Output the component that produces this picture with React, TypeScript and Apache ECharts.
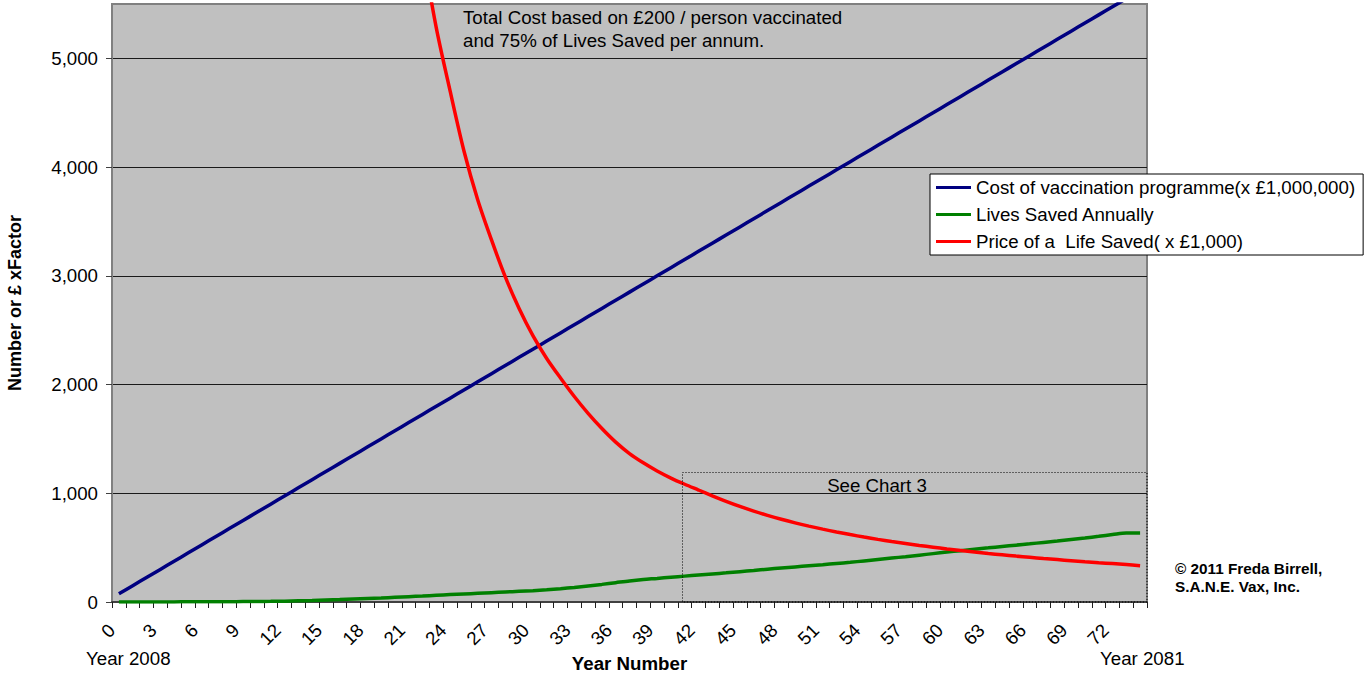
import React, { useEffect, useRef } from 'react';
import * as echarts from 'echarts';

const FONT = '"Liberation Sans", Arial, Helvetica, sans-serif';

// Year number categories (0 = Year 2008 ... 74)
const categories = [
  '0', '1', '2', '3', '4', '5', '6', '7', '8', '9',
  '10', '11', '12', '13', '14', '15', '16', '17', '18', '19',
  '20', '21', '22', '23', '24', '25', '26', '27', '28', '29',
  '30', '31', '32', '33', '34', '35', '36', '37', '38', '39',
  '40', '41', '42', '43', '44', '45', '46', '47', '48', '49',
  '50', '51', '52', '53', '54', '55', '56', '57', '58', '59',
  '60', '61', '62', '63', '64', '65', '66', '67', '68', '69',
  '70', '71', '72', '73', '74',
];

// Cost of vaccination programme (x £1,000,000)
const costValues = [
  75, 150, 225, 300, 375, 450, 525, 600, 675, 750,
  825, 900, 975, 1050, 1125, 1200, 1275, 1350, 1425, 1500,
  1575, 1650, 1725, 1800, 1875, 1950, 2025, 2100, 2175, 2250,
  2325, 2400, 2475, 2550, 2625, 2700, 2775, 2850, 2925, 3000,
  3075, 3150, 3225, 3300, 3375, 3450, 3525, 3600, 3675, 3750,
  3825, 3900, 3975, 4050, 4125, 4200, 4275, 4350, 4425, 4500,
  4575, 4650, 4725, 4800, 4875, 4950, 5025, 5100, 5175, 5250,
  5325, 5400, 5475, 5550, 5625,
];

// Lives Saved Annually
const livesValues = [
  0, 0, 0, 1, 1, 2, 2, 3, 3, 4,
  5, 6, 8, 11, 14, 18, 22, 27, 32, 37,
  43, 49, 55, 62, 68, 74, 80, 86, 92, 98,
  104, 112, 122, 134, 148, 162, 178, 194, 207, 217,
  228, 238, 248, 258, 268, 279, 290, 302, 313, 323,
  333, 343, 354, 365, 378, 391, 404, 417, 431, 445,
  459, 472, 485, 498, 511, 523, 535, 548, 561, 575,
  589, 604, 620, 635, 635,
];

// Price of a Life Saved (x £1,000)
const priceValues = [
  null, null, null, null, null, null, null, null, null, null,
  null, null, null, null, null, null, null, null, null, null,
  null, 6800, 6000, 5280, 4700, 4150, 3700, 3330, 2990, 2700,
  2450, 2240, 2060, 1890, 1735, 1595, 1470, 1365, 1280, 1205,
  1140, 1083, 1030, 977, 926, 879, 836, 797, 761, 728,
  698, 670, 644, 620, 597, 576, 556, 538, 520, 504,
  488, 474, 460, 446, 434, 422, 411, 400, 390, 380,
  370, 361, 353, 344, 334,
];

const seriesNames = [
  'Cost of vaccination programme(x £1,000,000)',
  'Lives Saved Annually',
  'Price of a  Life Saved( x £1,000)',
];
const seriesColors = ['#000080', '#008000', '#FF0000'];

const fmt = (v: number) => String(v).replace(/\B(?=(\d{3})+(?!\d))/g, ',');

export default function App() {
  const ref = useRef<HTMLDivElement>(null);

  useEffect(() => {
    document.body.style.margin = '0';
    const chart = echarts.init(ref.current as HTMLDivElement, null, { renderer: 'svg' });
    const values = [costValues, livesValues, priceValues];
    chart.setOption({
      animation: false,
      backgroundColor: '#ffffff',
      textStyle: { fontFamily: FONT },
      grid: {
        left: 112,
        top: 4,
        right: 220,
        bottom: 72,
        containLabel: false,
        outerBoundsMode: 'none',
        show: true,
        backgroundColor: '#C0C0C0',
        borderColor: '#808080',
        borderWidth: 2,
      },
      legend: {
        orient: 'vertical',
        left: 930,
        top: 174,
        padding: [4, 8, 4, 6],
        itemGap: 8,
        itemWidth: 35,
        itemHeight: 3,
        icon: 'rect',
        backgroundColor: '#ffffff',
        borderColor: '#000000',
        borderWidth: 1,
        borderRadius: 0,
        selectedMode: false,
        textStyle: { fontSize: 18.7, color: '#000', fontFamily: FONT },
        data: seriesNames,
      },
      xAxis: {
        type: 'category',
        data: categories,
        boundaryGap: true,
        axisLine: { lineStyle: { color: '#404040', width: 2 } },
        axisTick: { show: true, interval: 0, length: 6, lineStyle: { color: '#202020', width: 1 } },
        axisLabel: {
          interval: 2,
          rotate: 45,
          margin: 18,
          fontSize: 18.7,
          color: '#000',
          fontFamily: FONT,
          padding: [0, 10, 20, 0],
        },
        splitLine: { show: false },
        name: 'Year Number',
        nameLocation: 'middle',
        nameGap: 52,
        nameMoveOverlap: false,
        nameTextStyle: { fontWeight: 'bold', fontSize: 18.7, lineHeight: 19, color: '#000', fontFamily: FONT },
      },
      yAxis: {
        type: 'value',
        min: 0,
        max: 5500,
        interval: 1000,
        axisLine: { show: true, lineStyle: { color: '#808080', width: 2 } },
        axisTick: { show: true, length: 6, lineStyle: { color: '#404040' } },
        axisLabel: {
          formatter: (v: number) => fmt(v),
          fontSize: 18.7,
          color: '#000',
          margin: 14,
          showMaxLabel: false,
          fontFamily: FONT,
        },
        splitLine: { show: true, showMaxLine: false, lineStyle: { color: '#1a1a1a', width: 1 } },
        name: 'Number or £ xFactor',
        nameLocation: 'middle',
        nameRotate: 90,
        nameGap: 88,
        nameMoveOverlap: false,
        nameTextStyle: { fontWeight: 'bold', fontSize: 18, color: '#000', fontFamily: FONT },
      },
      series: seriesNames.map((name, i) => ({
        name,
        type: 'line',
        data: values[i],
        symbol: 'none',
        showSymbol: false,
        smooth: 0.3,
        clip: true,
        lineStyle: { color: seriesColors[i], width: 3.5 },
        itemStyle: { color: seriesColors[i] },
      })),
      graphic: [
        {
          type: 'text',
          left: 463,
          top: 6,
          style: {
            text: 'Total Cost based on £200 / person vaccinated\nand 75% of Lives Saved per annum.',
            fontSize: 18.7,
            lineHeight: 23,
            fill: '#000',
            fontFamily: FONT,
          },
        },
        {
          type: 'rect',
          shape: { x: 682.5, y: 472.5, width: 464.5, height: 129.5 },
          style: { fill: 'none', stroke: '#000', lineWidth: 1, lineDash: [1, 2] },
          z: 10,
        },
        {
          type: 'text',
          x: 877,
          y: 485,
          style: {
            text: 'See Chart 3',
            fontSize: 18.7,
            fill: '#000',
            align: 'center',
            verticalAlign: 'middle',
            fontFamily: FONT,
          },
          z: 10,
        },
        {
          type: 'text',
          x: 86,
          y: 658,
          style: { text: 'Year 2008', fontSize: 18.7, fill: '#000', verticalAlign: 'middle', fontFamily: FONT },
        },
        {
          type: 'text',
          x: 1100,
          y: 658,
          style: { text: 'Year 2081', fontSize: 18.7, fill: '#000', verticalAlign: 'middle', fontFamily: FONT },
        },
        {
          type: 'text',
          x: 1175,
          y: 559,
          style: {
            text: '© 2011 Freda Birrell,\nS.A.N.E. Vax, Inc.',
            fontSize: 15.3,
            fontWeight: 'bold',
            lineHeight: 18,
            fill: '#000',
            fontFamily: FONT,
          },
        },
      ],
    });
    return () => chart.dispose();
  }, []);

  return <div ref={ref} style={{ width: 1367, height: 674 }} />;
}
